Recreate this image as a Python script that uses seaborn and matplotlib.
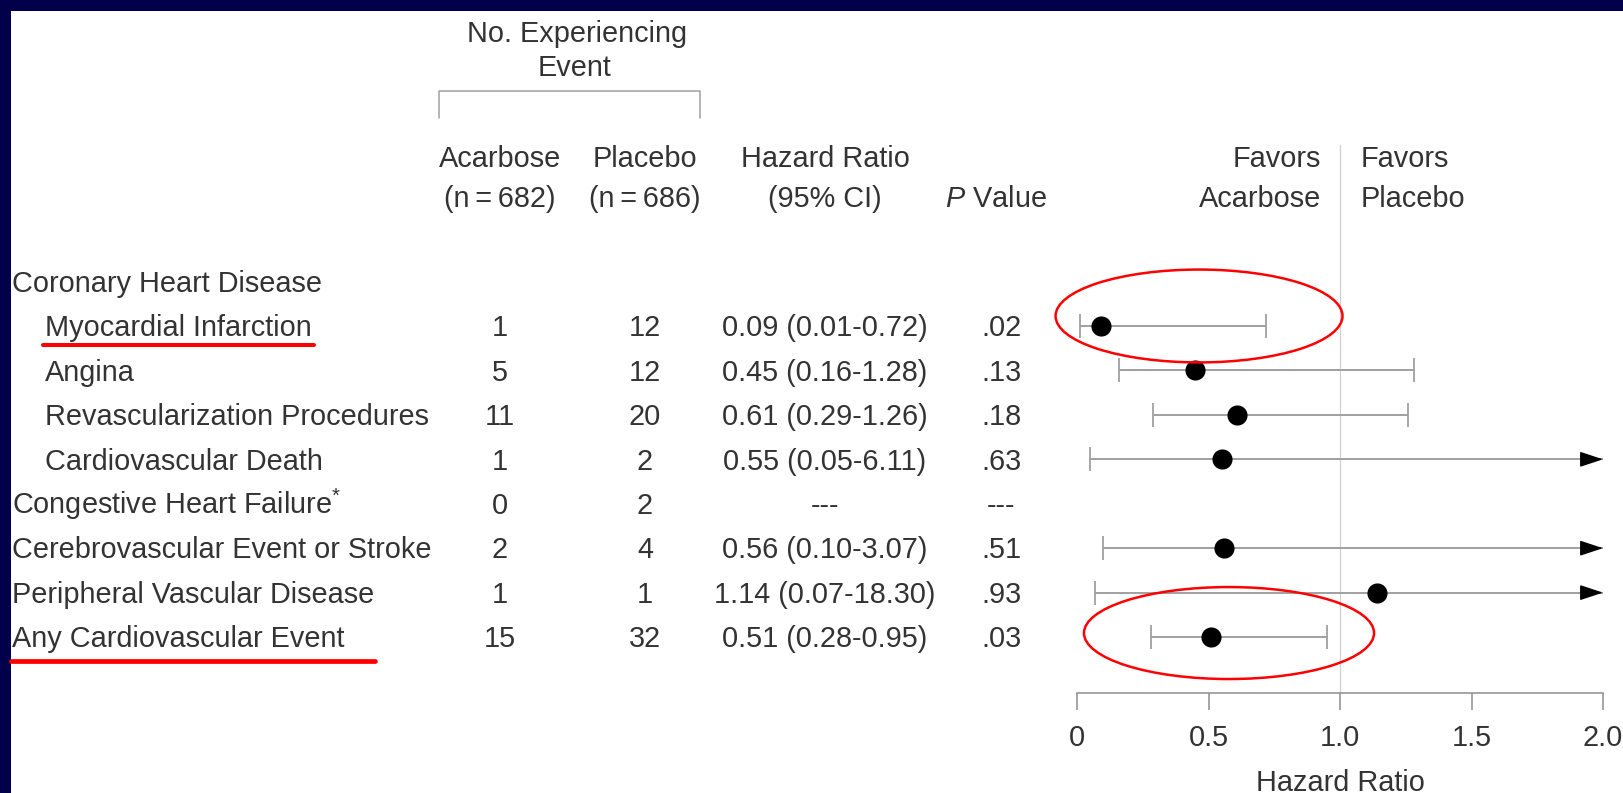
import numpy as np
import pandas as pd
import matplotlib
matplotlib.use("Agg")
import matplotlib.pyplot as plt
import matplotlib.transforms as mtransforms
from matplotlib.patches import Ellipse, Rectangle
from matplotlib.lines import Line2D
import seaborn as sns

# ---- data -----------------------------------------------------------------
outcomes = [
    "Coronary Heart Disease",
    "Myocardial Infarction",
    "Angina",
    "Revascularization Procedures",
    "Cardiovascular Death",
    "Congestive Heart Failure$^{*}$",
    "Cerebrovascular Event or Stroke",
    "Peripheral Vascular Disease",
    "Any Cardiovascular Event",
]
indented = [False, True, True, True, True, False, False, False, False]
acarbose_events = [None, 1, 5, 11, 1, 0, 2, 1, 15]
placebo_events = [None, 12, 12, 20, 2, 2, 4, 1, 32]
hazard_ratio = [np.nan, 0.09, 0.45, 0.61, 0.55, np.nan, 0.56, 1.14, 0.51]
ci_low = [np.nan, 0.01, 0.16, 0.29, 0.05, np.nan, 0.10, 0.07, 0.28]
ci_high = [np.nan, 0.72, 1.28, 1.26, 6.11, np.nan, 3.07, 18.30, 0.95]
p_values = ["", ".02", ".13", ".18", ".63", "---", ".51", ".93", ".03"]
x_ticks = [0, 0.5, 1.0, 1.5, 2.0]
x_tick_labels = ["0", "0.5", "1.0", "1.5", "2.0"]
x_max = 2.0

df = pd.DataFrame({
    "row": np.arange(len(outcomes)),
    "hr": hazard_ratio,
    "lo": ci_low,
    "hi": ci_high,
})

# ---- style ----------------------------------------------------------------
sns.set_theme(style="white")
plt.rcParams["font.family"] = ["Liberation Sans", "DejaVu Sans"]
plt.rcParams["mathtext.fontset"] = "custom"
plt.rcParams["mathtext.rm"] = "Liberation Sans"
plt.rcParams["mathtext.it"] = "Liberation Sans:italic"

W, H = 1623, 793
FS = 20.8
TXT = "#333333"
GRID = "#8e8e8e"
CI_COL = "#a0a0a0"
RED = "#ff0000"


def fx(px):
    return px / W


def fy(py):
    return 1 - py / H


fig = plt.figure(figsize=(W / 100, H / 100), dpi=100, facecolor="#02004a")
fig.patches.append(Rectangle((fx(11), 0), 1, fy(11), transform=fig.transFigure,
                             facecolor="white", edgecolor="none", zorder=-10))

# forest-plot axes
ax_top, ax_bot = 145, 693
ax = fig.add_axes([fx(1077), fy(ax_bot), (1603 - 1077) / W, (ax_bot - ax_top) / H])
ax.set_facecolor("none")
row0, row_step = 281.6, 44.43
ax.set_xlim(0, x_max)
ax.set_ylim((ax_bot - row0) / row_step, (ax_top - row0) / row_step)

for s in ["top", "right", "left"]:
    ax.spines[s].set_visible(False)
ax.spines["bottom"].set_color(GRID)
ax.spines["bottom"].set_linewidth(1.1)
ax.set_yticks([])
ax.set_xticks(x_ticks)
ax.set_xticklabels(x_tick_labels)
ax.tick_params(axis="x", direction="out", length=12, width=1.1, color=GRID,
               pad=10.5, labelsize=FS, labelcolor=TXT, bottom=True)

ax.axvline(1.0, color="#d0d0d0", lw=0.9, zorder=0)

# confidence intervals
for _, r in df.dropna().iterrows():
    hi_draw = min(r["hi"], x_max)
    ax.hlines(r["row"], r["lo"], hi_draw, color=CI_COL, lw=1.4, zorder=2)
    ax.plot([r["lo"]], [r["row"]], marker="|", ms=17.5, mew=1.3, color=CI_COL, zorder=2)
    if r["hi"] <= x_max:
        ax.plot([r["hi"]], [r["row"]], marker="|", ms=17.5, mew=1.3, color=CI_COL, zorder=2)
    else:
        ax.annotate("", xy=(x_max, r["row"]), xytext=(-20, 0), textcoords="offset pixels",
                    annotation_clip=False,
                    arrowprops=dict(arrowstyle="-|>,head_length=1.0,head_width=0.33",
                                    mutation_scale=14.4, color="black", lw=1,
                                    shrinkA=0, shrinkB=0))

sns.scatterplot(data=df.dropna(), x="hr", y="row", ax=ax, color="black", s=210,
                linewidth=0, legend=False, zorder=5, clip_on=False)
ax.set_ylabel("")
ax.set_xlabel("Hazard Ratio", fontsize=FS, color=TXT)
ax.xaxis.set_label_coords(0.5, (ax_bot - 769) / (ax_bot - ax_top))

# ---- table ----------------------------------------------------------------
trans = mtransforms.blended_transform_factory(fig.transFigure, ax.transData)
base_off = 10.3 / row_step
for i, name in enumerate(outcomes):
    y = i + base_off
    ax.text(fx(45 if indented[i] else 12.5), y, name, transform=trans, ha="left",
            va="baseline", fontsize=FS, color=TXT)
    if acarbose_events[i] is not None:
        ax.text(fx(500), y, str(acarbose_events[i]), transform=trans, ha="center",
                va="baseline", fontsize=FS, color=TXT)
        ax.text(fx(645), y, str(placebo_events[i]), transform=trans, ha="center",
                va="baseline", fontsize=FS, color=TXT)
    if i > 0:
        if np.isnan(hazard_ratio[i]):
            hr_txt = "---"
        else:
            hr_txt = f"{hazard_ratio[i]:.2f} ({ci_low[i]:.2f}-{ci_high[i]:.2f})"
        ax.text(fx(825), y, hr_txt, transform=trans, ha="center", va="baseline",
                fontsize=FS, color=TXT)
        ax.text(fx(1001), y, p_values[i], transform=trans, ha="center",
                va="baseline", fontsize=FS, color=TXT)

# column headers
def header(px, py, s, ha="center"):
    fig.text(fx(px), fy(py), s, ha=ha, va="baseline", fontsize=FS, color=TXT)


header(577, 42, "No. Experiencing")
header(575, 76, "Event")
header(500, 167, "Acarbose")
header(500, 207, "(n\u2009=\u2009682)")
header(645, 167, "Placebo")
header(645, 207, "(n\u2009=\u2009686)")
header(825, 167, "Hazard Ratio")
header(825, 207, "(95% CI)")
header(996, 207, "$P$ Value")
header(1321, 167, "Favors", ha="right")
header(1321, 207, "Acarbose", ha="right")
header(1361, 167, "Favors", ha="left")
header(1361, 207, "Placebo", ha="left")

# bracket over the event-count columns
fig.add_artist(Line2D([fx(439), fx(439), fx(700), fx(700)],
                      [fy(118), fy(91), fy(91), fy(118)],
                      transform=fig.transFigure, color="#a0a0a0", lw=1.1))

# ---- highlights -----------------------------------------------------------
for cx, cy, w, h in [(0.464, 0.774, 1.091, 2.09), (0.578, 7.91, 1.103, 2.07)]:
    ax.add_patch(Ellipse((cx, cy), w, h, facecolor="none", edgecolor=RED,
                         lw=1.8, clip_on=False, zorder=6))

fig.add_artist(Line2D([fx(43), fx(314)], [fy(345), fy(345)],
                      transform=fig.transFigure, color=RED, lw=2.9))
fig.add_artist(Line2D([fx(11), fx(375)], [fy(661), fy(661)],
                      transform=fig.transFigure, color=RED, lw=3.4))

fig.savefig("out.png", dpi=100, facecolor=fig.get_facecolor())
